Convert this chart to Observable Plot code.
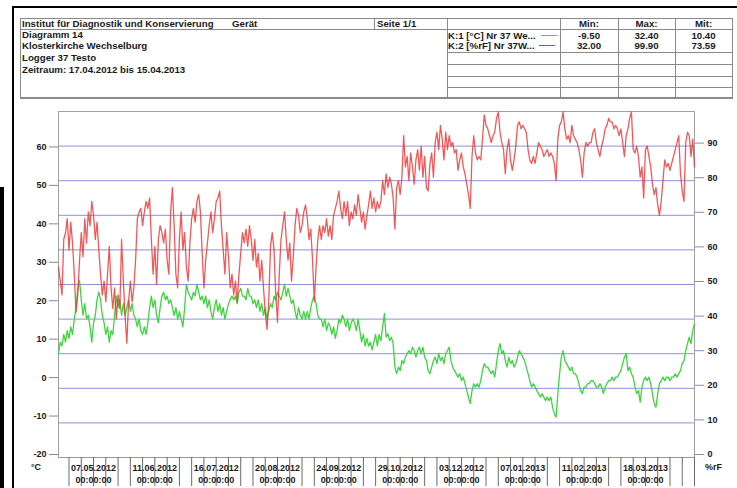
<!DOCTYPE html>
<html><head><meta charset="utf-8">
<script src="https://cdn.jsdelivr.net/npm/d3@7"></script>
<script src="https://cdn.jsdelivr.net/npm/@observablehq/plot@0.6"></script>
<style>
body{margin:0;background:#fff;}
#wrap{position:relative;width:737px;height:488px;overflow:hidden;font-family:"Liberation Sans",Arial,sans-serif;font-weight:bold;font-size:9.7px;color:#1a1a1a;}
#chart{position:absolute;left:0;top:0;}
.box{position:absolute;}
.hl{position:absolute;height:0;border-top:1px solid #8a8a8a;}
.vl{position:absolute;width:0;border-left:1px solid #8a8a8a;}
.t{position:absolute;white-space:nowrap;line-height:10px;}
</style></head><body>
<div id="wrap"><div id="chart"></div><div id="hdr"></div></div>
<script>
// ---- data ----
const startDate = [2012, 4, 17]; // 17.04.2012, one reading per day
const headerTitle = "Institut für Diagnostik und Konservierung";
const headerDevice = "Gerät";
const headerPage = "Seite 1/1";
const headerLines = ["Diagramm 14", "Klosterkirche Wechselburg", "Logger 37 Testo", "Zeitraum: 17.04.2012 bis 15.04.2013"];
const statsHeader = ["Min:", "Max:", "Mit:"];
const channelNames = ["K:1 [°C] Nr 37 We...", "K:2 [%rF] Nr  37W..."];
const statsTemp = ["-9.50", "32.40", "10.40"];
const statsRh = ["32.00", "99.90", "73.59"];
const tickLabels = ["07.05.2012","11.06.2012","16.07.2012","20.08.2012","24.09.2012","29.10.2012","03.12.2012","07.01.2013","11.02.2013","18.03.2013"];
const tempTicks = [-20,-10,0,10,20,30,40,50,60];
const rhTicks = [0,10,20,30,40,50,60,70,80,90];

// K:2 relative humidity (%rF), daily
const rhValues = [
55,51,47,63,65,69,60,68,62,53,
42,47,57,65,58,69,62,71,67,74,
70,63,68,60,53,47,51,45,53,61,
49,43,49,40,47,43,63,51,41,33,
45,51,45,49,57,69,71,72,67,71,
74,72,75,63,53,61,50,63,67,65,
62,66,57,53,71,78,67,53,49,63,
71,60,65,55,51,62,69,72,68,74,
76,71,59,49,57,62,67,71,65,69,
74,75,77,67,60,53,65,58,49,53,
47,51,45,53,59,65,62,66,61,67,
63,57,63,55,59,51,57,49,42,37,
45,61,65,60,47,39,53,63,67,71,
63,57,62,51,58,67,72,70,65,67,
71,73,69,63,66,57,45,55,63,67,
63,67,65,69,64,67,63,70,72,74,
77,72,69,74,70,74,67,71,69,73,
70,76,72,68,71,66,70,73,77,72,
75,71,74,72,74,80,76,82,78,81,
79,75,66,78,80,76,81,93,84,87,
80,88,84,79,86,89,83,90,81,87,
78,77,85,88,81,91,94,89,96,92,
86,94,89,93,90,91,88,89,83,86,
88,84,82,79,76,72,87,93,88,86,
87,86,92,99,96,95,93,91,93,94,
98,99.9,94,91,89,82,89,92,86,83,
86,90,96,97,95,96,95,94,89,86,
85,87,85,88,91,90,89,87,88,89,
87,88,87,85,80,92,96,97,99.9,95,
92,93,91,96,93,92,91,89,86,81,
88,91,90,91,91,94,95,91,89,87,
90,92,95,96,98,97,97,95,96,95,
93,95,91,87,93,95,98,99.9,89,88,
90,87,81,84,75,89,90,87,84,79,
76,78,73,70,74,80,86,84,85,83,
85,87,89,91,93,82,77,74,91,94,
93,87,92,84
];

// K:1 temperature (°C), daily
const tempValues = [
7,10,9,12,10,13,11,14,12,16,
19,24,26,21,17,20,16,17,14,10,
15,17,21,23,21,17,15,12,14,10,
13,12,17,22,19,21,17,20,17,19,
21,18,20,17,16,14,16,13,12,14,
12,15,19,22,19,21,17,15,19,22,
23,21,22,20,21,19,17,19,16,18,
16,14,19,25,23,22,21,23,22,25,
23,21,22,20,22,19,21,18,16,19,
21,18,20,17,19,16,18,20,21,22,
21,22,20,23,24,22,22,21,24,22,
22,20,21,19,21,18,20,17,19,16,
18,20,19,22,21,23,22,21,23,25,
22,24,22,20,21,18,16,19,17,16,
18,16,18,16,19,21,22,20,17,16,
16,14,16,13,15,14,12,14,11,13,
16,15,17,16,14,16,13,15,16,15,
13,16,13,10,12,9,11,9,10,8,
10,12,9,12,
10.4,13.9,17.4,11.3,12.2,10.4,
11.3,9.6,3.5,1.8,3.5,2.6,5.2,4.4,6.1,7.0,
7.8,7.0,8.7,7.8,6.1,7.8,8.7,7.0,8.7,6.1,
5.2,2.6,1.8,3.5,5.2,6.1,4.4,7.0,5.2,6.1,
4.4,7.0,7.8,8.7,5.2,3.5,2.6,1.8,0.9,1.8,
0.0,0.9,-0.8,-2.6,-4.3,-6.0,-2.6,-0.8,-1.7,-0.8,
-1.7,0.0,2.6,4.4,3.5,3.5,2.6,1.8,2.6,0.9,
4.4,7.8,9.6,7.0,7.8,5.2,3.5,6.1,4.4,5.2,
3.5,4.4,6.1,7.8,7.0,6.1,5.2,3.5,1.8,0.0,
-1.7,-0.8,-1.7,-2.6,-3.4,-4.3,-3.4,-4.3,-5.2,-4.3,
-5.2,-4.3,-6.9,-8.6,-9.5,-3.4,1.8,6.1,7.8,5.2,
4.4,3.5,2.6,3.5,1.8,1.8,0.9,-0.8,-2.6,-3.4,
-1.7,-1.7,-0.8,-0.8,0.0,0.0,-0.8,-1.7,-1.7,-0.8,
-1.7,-3.4,-1.7,-0.8,0.0,0.0,0.9,0.0,0.9,0.9,
1.8,2.6,4.4,6.1,7.0,2.6,3.5,1.8,0.9,-1.7,
-3.4,-2.6,-5.6,-1.7,0.0,0.9,0.0,0.9,-0.8,-3.4,
-6.0,-6.9,-3.4,-0.8,0.0,0.9,0.0,0.9,0.9,0.0,
0.9,0.9,1.8,0.9,1.8,2.6,4.4,5.2,7.8,9.6,
11.3,9.6,13.0,14.8
];

// ---- build ----
const dayDate = i => new Date(Date.UTC(startDate[0], startDate[1] - 1, startDate[2] + i));
const x0 = dayDate(0), x1 = dayDate(363);
const rhToY = v => -20 + v * 0.9;      // right axis 0..100 onto left axis -20..70
const yToRh = y => (y + 20) / 0.9;
const temp = tempValues.map((v, i) => ({date: dayDate(i), y: v}));
const rh = rhValues.map((v, i) => ({date: dayDate(i), y: rhToY(v)}));
const labelDates = tickLabels.map(s => { const [d, m, y] = s.split("."); return new Date(Date.UTC(+y, +m - 1, +d)); });
const labelMap = new Map(labelDates.map((d, i) => [+d, tickLabels[i] + "\n00:00:00"]));
const weekTicks = d3.utcMonday.range(x0, new Date(+x1 + 86400000));
const font = '"Liberation Sans", Arial, sans-serif';
const green = "#3fd43f", red = "#ee3535";

const chart = Plot.plot({
  width: 737, height: 488,
  marginLeft: 58, marginRight: 43, marginTop: 111, marginBottom: 31,
  style: {fontFamily: font, fontSize: "9px", fontWeight: "bold", color: "#1a1a1a", background: "#fff", overflow: "visible"},
  x: {type: "utc", domain: [x0, x1], axis: null, label: null},
  y: {domain: [-20, 70], axis: null, label: null},
  marks: [
    Plot.frame({stroke: "#a0a0a0"}),
    Plot.gridY(rhTicks.map(rhToY), {stroke: "#8f8fdc", strokeOpacity: 1}),
    Plot.axisY(tempTicks, {anchor: "left", label: null, tickSize: 9, tickPadding: 3, dy: -3, stroke: "#8a8a8a", fill: "#1a1a1a", tickFormat: d => String(d)}),
    Plot.axisY(rhTicks.map(rhToY), {anchor: "right", label: null, tickSize: 9, tickPadding: 4, dy: -3, stroke: "#8a8aba", fill: "#1a1a1a", tickFormat: d => String(Math.round(yToRh(d)))}),
    Plot.axisX(weekTicks, {anchor: "bottom", label: null, tickSize: 29, tickFormat: () => "", stroke: "#6a6a6a"}),
    Plot.axisX(labelDates, {anchor: "bottom", label: null, tickSize: 0, tickPadding: 5, lineHeight: 1.35, fill: "#1a1a1a", tickFormat: d => labelMap.get(+d)}),
    Plot.line(temp, {x: "date", y: "y", stroke: green, strokeWidth: 1.3}),
    Plot.line(rh, {x: "date", y: "y", stroke: red, strokeWidth: 1.3, strokeOpacity: 0.82})
  ]
});
document.getElementById("chart").appendChild(chart);

// ---- header / frame decoration ----
const hdr = document.getElementById("hdr");
function add(cls, css, text) {
  const e = document.createElement("div");
  e.className = cls;
  Object.assign(e.style, css);
  if (text != null) e.textContent = text;
  hdr.appendChild(e);
  return e;
}
// black page frame
add("box", {left: "12px", top: "6px", width: "725px", height: "2px", background: "#000"});
add("box", {left: "12px", top: "6px", width: "2px", height: "482px", background: "#000"});
add("box", {left: "0px", top: "187px", width: "4px", height: "301px", background: "#000"});
// header box
add("box", {left: "20px", top: "18px", width: "711px", height: "78px", border: "1px solid #8a8a8a", borderBottom: "2px solid #8a8a8a"});
add("hl", {left: "20px", top: "29px", width: "712px"});
add("vl", {left: "447px", top: "18px", height: "80px"});
add("vl", {left: "374px", top: "18px", height: "11px"});
[560, 618, 675].forEach(x => add("vl", {left: x + "px", top: "18px", height: "80px"}));
[52, 64, 76, 87].forEach(y => add("hl", {left: "447px", top: y + "px", width: "285px"}));
add("t", {left: "22px", top: "19px"}, headerTitle);
add("t", {left: "232px", top: "19px"}, headerDevice);
add("t", {left: "377px", top: "19px"}, headerPage);
headerLines.forEach((s, i) => add("t", {left: "22px", top: (29.5 + i * 11.7) + "px"}, s));
const cols = [[560, 618], [618, 675], [675, 732]];
statsHeader.forEach((s, i) => add("t", {left: cols[i][0] + "px", width: (cols[i][1] - cols[i][0]) + "px", textAlign: "center", top: "19px"}, s));
statsTemp.forEach((s, i) => add("t", {left: cols[i][0] + "px", width: (cols[i][1] - cols[i][0]) + "px", textAlign: "center", top: "30.5px"}, s));
statsRh.forEach((s, i) => add("t", {left: cols[i][0] + "px", width: (cols[i][1] - cols[i][0]) + "px", textAlign: "center", top: "40.5px"}, s));
add("t", {left: "448px", top: "30.5px"}, channelNames[0]);
add("t", {left: "448px", top: "40.5px"}, channelNames[1]);
add("box", {left: "541px", top: "35px", width: "16px", height: "1px", background: green});
add("box", {left: "539px", top: "45px", width: "16px", height: "1px", background: red});
// unit labels
add("t", {left: "31px", top: "462px", fontSize: "9px"}, "°C");
add("t", {left: "705px", top: "462px", fontSize: "9px"}, "%rF");
</script>
</body></html>
